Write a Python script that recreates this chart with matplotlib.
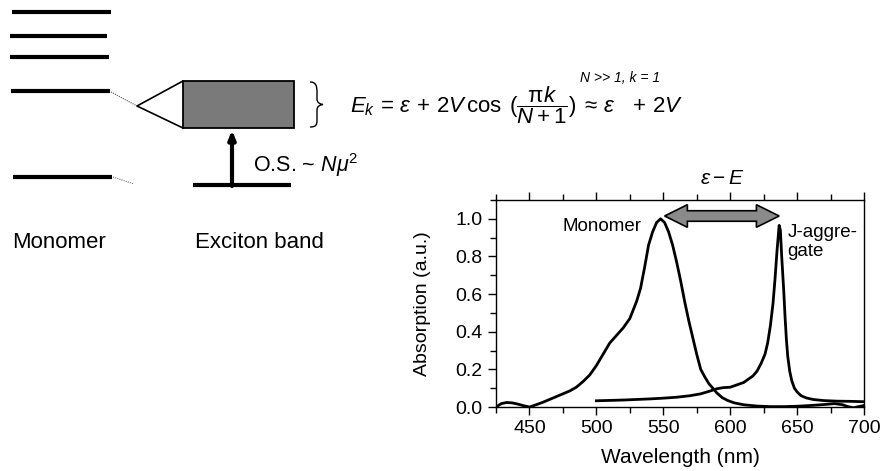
import numpy as np
import matplotlib
matplotlib.use("Agg")
import matplotlib.pyplot as plt
from matplotlib.patches import Rectangle, Polygon, PathPatch
from matplotlib.path import Path
from matplotlib.ticker import MultipleLocator

plt.rcParams['font.family'] = ['Liberation Sans', 'DejaVu Sans']
plt.rcParams['mathtext.fontset'] = 'custom'
plt.rcParams['mathtext.rm'] = 'Liberation Sans'
plt.rcParams['mathtext.it'] = 'Liberation Sans:italic'
plt.rcParams['mathtext.bf'] = 'Liberation Sans:bold'

# absorption spectra (wavelength in nm, absorption in a.u.)
mono_wl = [426, 429, 433, 437, 441, 445, 450, 455, 460, 465, 470, 475, 480, 485,
           490, 495, 500, 505, 510, 515, 520, 525, 530, 533, 536, 539, 542, 545,
           548, 551, 554, 557, 560, 563, 566, 569, 572, 575, 578, 581, 584, 587,
           590, 594, 598, 603, 610, 620, 630, 640, 650, 660, 670, 678, 684, 688,
           692, 696, 700]
mono_abs = [0.005, 0.018, 0.024, 0.022, 0.016, 0.008, 0.0, 0.012, 0.025, 0.04,
            0.055, 0.07, 0.085, 0.105, 0.135, 0.17, 0.22, 0.28, 0.34, 0.38, 0.42,
            0.47, 0.56, 0.63, 0.74, 0.86, 0.93, 0.98, 1.0, 0.98, 0.93, 0.86, 0.77,
            0.67, 0.56, 0.46, 0.37, 0.28, 0.20, 0.16, 0.125, 0.10, 0.075, 0.05,
            0.035, 0.022, 0.012, 0.005, 0.002, 0.002, 0.004, 0.008, 0.013, 0.018,
            0.012, 0.002, -0.004, 0.002, 0.008]

jagg_wl = [500, 510, 520, 530, 540, 550, 560, 570, 578, 585, 590, 595, 600, 606,
           610, 614, 617, 620, 623, 626, 628, 630, 632, 633.5, 635, 636.6, 637.5,
           638.5, 640, 641, 642, 643, 644.5, 646, 648, 650, 653, 657, 662, 670,
           680, 690, 700]
jagg_abs = [0.033, 0.035, 0.037, 0.04, 0.043, 0.047, 0.052, 0.06, 0.07, 0.085,
            0.097, 0.103, 0.105, 0.12, 0.13, 0.15, 0.165, 0.19, 0.23, 0.28, 0.34,
            0.43, 0.55, 0.68, 0.83, 0.965, 0.94, 0.8, 0.62, 0.48, 0.36, 0.27,
            0.19, 0.14, 0.10, 0.08, 0.06, 0.048, 0.04, 0.034, 0.031, 0.03, 0.028]

x_ticks = [450, 500, 550, 600, 650, 700]
y_ticks = [0.0, 0.2, 0.4, 0.6, 0.8, 1.0]

fig = plt.figure(figsize=(8.83, 4.71), dpi=100)

# ---- energy level scheme (drawn in pixel coords) ----
ax0 = fig.add_axes([0, 0, 1, 1])
ax0.set_xlim(0, 883)
ax0.set_ylim(471, 0)
ax0.axis('off')

levels = [(12, 111, 12), (10, 107, 36), (10, 109, 57), (11, 110, 91), (13, 112, 177)]
for x0, x1, y in levels:
    ax0.plot([x0, x1], [y, y], color='black', lw=3, solid_capstyle='butt')

# dotted connectors from monomer levels
ax0.plot([111, 137], [92, 106], color='#555555', lw=0.8, ls=(0, (1, 1)))
ax0.plot([113, 134], [177, 184], color='#777777', lw=0.8, ls=(0, (1, 1)))
# splitting into the band
ax0.plot([183, 137, 183], [81, 106, 128], color='black', lw=1.2)
ax0.add_patch(Rectangle((183, 81), 111, 47, facecolor='#7a7a7a',
                        edgecolor='black', lw=1.3))

# ground state of the aggregate and transition arrow
ax0.plot([193, 291], [185, 185], color='black', lw=3, solid_capstyle='butt')
ax0.annotate('', xy=(232, 130), xytext=(232, 186),
             arrowprops=dict(arrowstyle='-|>,head_length=0.5,head_width=0.2',
                             lw=3, color='black', shrinkA=0, shrinkB=0))

# curly brace next to the band
verts = [(310, 82), (316, 82), (317, 86), (317, 92),
         (317, 99),
         (317, 102), (319, 104), (323, 104.5),
         (319, 105), (317, 107), (317, 110),
         (317, 120),
         (317, 125), (316, 127), (310, 127)]
codes = [Path.MOVETO, Path.CURVE4, Path.CURVE4, Path.CURVE4,
         Path.LINETO,
         Path.CURVE4, Path.CURVE4, Path.CURVE4,
         Path.CURVE4, Path.CURVE4, Path.CURVE4,
         Path.LINETO,
         Path.CURVE4, Path.CURVE4, Path.CURVE4]
ax0.add_patch(PathPatch(Path(verts, codes), facecolor='none', edgecolor='black', lw=1))

ax0.text(350, 105,
         r'$E_k\,=\,\varepsilon\,+\,2V\,\cos\;(\dfrac{\mathrm{\pi} k}{N+1})\;\approx\,\varepsilon\;\;\;+\,2V$',
         fontsize=16, va='center', ha='left')
ax0.text(580, 78, 'N >> 1, k = 1', fontsize=10, style='italic', va='center', ha='left')
ax0.text(253, 165, r'O.S. ~ $N\mu^2$', fontsize=15.5, va='center', ha='left')

ax0.text(12, 243, 'Monomer', fontsize=16, va='center', ha='left')
ax0.text(195, 243, 'Exciton band', fontsize=16, va='center', ha='left')

# ---- absorption spectra ----
ax = fig.add_axes([496 / 883, 1 - 407 / 471, 368 / 883, 207 / 471])
ax.plot(mono_wl, mono_abs, color='black', lw=2)
ax.plot(jagg_wl, jagg_abs, color='black', lw=2)
ax.set_xlim(425, 700)
ax.set_ylim(0, 1.1)
ax.set_xticks(x_ticks)
ax.set_yticks(y_ticks)
ax.set_yticklabels([f'{v:.1f}' for v in y_ticks])
ax.xaxis.set_minor_locator(MultipleLocator(25))
ax.yaxis.set_minor_locator(MultipleLocator(0.1))
ax.tick_params(axis='x', which='both', direction='out', top=True, labelsize=14)
ax.tick_params(axis='y', which='both', direction='out', right=False, labelsize=14)
ax.tick_params(which='major', length=6, width=1)
ax.tick_params(which='minor', length=4, width=1)
for s in ax.spines.values():
    s.set_linewidth(1)
ax.set_xlabel('Wavelength (nm)', fontsize=15, labelpad=8)
ax.set_ylabel('Absorption (a.u.)', fontsize=14, labelpad=18)

# double arrow between the two band maxima
i_m = int(np.argmax(mono_abs))
i_j = int(np.argmax(jagg_abs))
xa = mono_wl[i_m] + 3
xb = jagg_wl[i_j]
ya = 1.015
bh, hh, hl = 0.028, 0.06, 17
arrow_pts = [(xa, ya), (xa + hl, ya + hh), (xa + hl, ya + bh), (xb - hl, ya + bh),
             (xb - hl, ya + hh), (xb, ya), (xb - hl, ya - hh), (xb - hl, ya - bh),
             (xa + hl, ya - bh), (xa + hl, ya - hh)]
ax.add_patch(Polygon(arrow_pts, closed=True, facecolor='#8a8a8a',
                     edgecolor='black', lw=1.2, zorder=3))

ax.text(534, 0.96, 'Monomer', fontsize=13.5, ha='right', va='center')
ax.text(643, 0.875, 'J-aggre-\ngate', fontsize=13.5, ha='left', va='center',
        linespacing=1.15)
ax.text((xa + xb) / 2, 1.215, r'$\varepsilon - E$', fontsize=15,
        ha='center', va='center', clip_on=False)

fig.savefig('out.png', dpi=100)
